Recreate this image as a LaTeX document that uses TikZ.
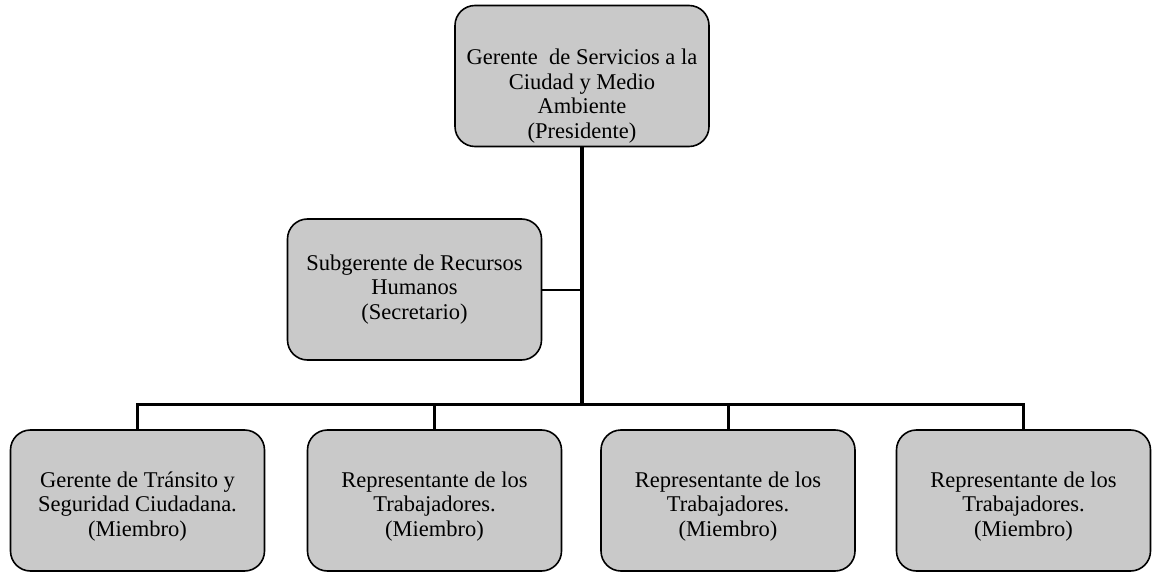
\documentclass[tikz,border=0pt]{standalone}
\usepackage{fontspec}
\setmainfont{Liberation Serif}
\begin{document}
\begin{tikzpicture}[x=1pt,y=-1pt,
  box/.style={draw=black, line width=1.6pt, rounded corners=20pt, fill=black!21,
    minimum width=254pt, minimum height=141pt, inner sep=0pt},
  txt/.style={align=center, inner sep=0pt, font=\fontsize{22.5}{24.5}\selectfont},
  trunk/.style={line width=4pt},
  bus/.style={line width=3pt},
  link/.style={line width=2pt}]
\useasboundingbox (0,0) rectangle (1154,572);
% boxes
\node[box] (top) at (582,76) {};
\node[txt] (toptxt) at ([yshift=-20pt]top.center) {Gerente\ \ de Servicios a la\\Ciudad y Medio\\Ambiente\\(Presidente)};
\node[box] (sub) at (414.5,289.5) {};
\node[txt] (subtxt) at (sub.center) {Subgerente de Recursos\\Humanos\\(Secretario)};
\node[box] (b1) at (137.5,500.5) {};
\node[box] (b2) at (434.5,500.5) {};
\node[box] (b3) at (728,500.5) {};
\node[box] (b4) at (1023.5,500.5) {};
\node[txt] (t1) at ([yshift=-6pt]b1.center) {Gerente de Tránsito y\\Seguridad Ciudadana.\\(Miembro)};
\node[txt] (t2) at ([yshift=-6pt]b2.center) {Representante de los\\Trabajadores.\\(Miembro)};
\node[txt] (t3) at ([yshift=-6pt]b3.center) {Representante de los\\Trabajadores.\\(Miembro)};
\node[txt] (t4) at ([yshift=-6pt]b4.center) {Representante de los\\Trabajadores.\\(Miembro)};
% connectors
\coordinate (bus) at (582,404);
\draw[trunk] (top.south) -- (top.south |- bus);
\draw[link] (sub.east) -- (sub.east -| top.south);
\draw[bus] ([xshift=-1.5pt]b1.north |- bus) -- ([xshift=1.5pt]b4.north |- bus);
\foreach \b in {b1,b2,b3,b4} \draw[bus] (\b.north) -- (\b.north |- bus);
\end{tikzpicture}
\end{document}
